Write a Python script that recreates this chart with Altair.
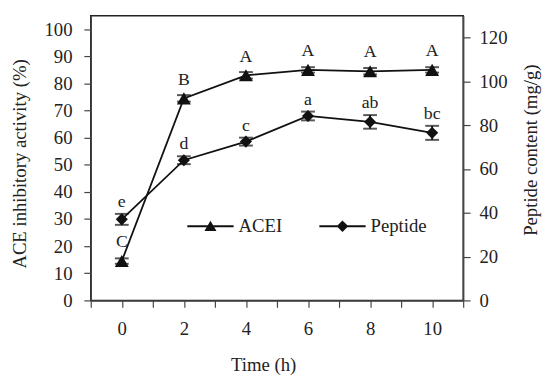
import altair as alt
import pandas as pd

# ---- data ----
time = [0, 2, 4, 6, 8, 10]
acei = [14.5, 74.5, 83.0, 85.0, 84.5, 85.0]
acei_err = [1.0, 1.2, 1.2, 1.0, 1.2, 1.0]
acei_letters = ["C", "B", "A", "A", "A", "A"]
peptide = [37.0, 64.0, 72.5, 84.2, 81.5, 76.5]
peptide_err = [2.5, 1.8, 1.8, 2.0, 3.1, 3.2]
peptide_letters = ["e", "d", "c", "a", "ab", "bc"]
series_names = ["ACEI", "Peptide"]
x_ticks = list(range(-1, 12))
left_ticks = list(range(0, 101, 10))
right_ticks = list(range(0, 121, 20))

FONT = "Liberation Serif"
INK = "#111111"
AX = "#444444"

acei_df = pd.DataFrame({
    "time": time, "value": acei, "err": acei_err, "letter": acei_letters,
})
acei_df["lo"] = acei_df["value"] - acei_df["err"]
acei_df["hi"] = acei_df["value"] + acei_df["err"]

pep_df = pd.DataFrame({
    "time": time, "value": peptide, "err": peptide_err, "letter": peptide_letters,
})
pep_df["lo"] = pep_df["value"] - pep_df["err"]
pep_df["hi"] = pep_df["value"] + pep_df["err"]

legend_df = pd.DataFrame({"series": series_names, "time": [0, 0]})

x_enc = alt.X(
    "time:Q",
    scale=alt.Scale(domain=[-1, 11], nice=False, zero=False),
    axis=alt.Axis(
        values=x_ticks,
        labelExpr="(datum.value % 2 == 0 && datum.value >= 0 && datum.value <= 10) ? datum.label : ''",
        title="Time (h)",
        titleX=175,
        titleY=65,
        titleBaseline="middle",
        titleAlign="center",
        labelPadding=13,
        tickSize=7,
        grid=False,
    ),
)

y_left_axis = alt.Axis(
    values=left_ticks,
    orient="left",
    title="ACE inhibitory activity (%)",
    titleAngle=270,
    titleX=-72,
    titleY=150,
    titleAlign="center",
    titleBaseline="middle",
    labelPadding=12,
    tickSize=7,
    grid=False,
)
y_right_axis = alt.Axis(
    values=right_ticks,
    orient="right",
    title="Peptide content (mg/g)",
    titleAngle=270,
    titleX=68,
    titleY=136,
    titleAlign="center",
    titleBaseline="middle",
    labelPadding=9,
    tickSize=7,
    grid=False,
)

left_scale = alt.Scale(domain=[0, 105], nice=False, zero=True)
right_scale = alt.Scale(domain=[0, 130], nice=False, zero=True)


def series_layer(df, scale, axis, shape, msize, text_field, text_dy):
    base = alt.Chart(df)
    y_val = alt.Y("value:Q", scale=scale, axis=axis)
    line = base.mark_line(color=INK, strokeWidth=1.8).encode(x=x_enc, y=y_val)
    rule = base.mark_rule(color=INK, strokeWidth=1.8).encode(
        x=x_enc, y=alt.Y("lo:Q", scale=scale, axis=axis), y2="hi:Q"
    )
    cap_lo = base.mark_tick(color=INK, orient="horizontal", size=14, thickness=2).encode(
        x=x_enc, y=alt.Y("lo:Q", scale=scale, axis=axis)
    )
    cap_hi = base.mark_tick(color=INK, orient="horizontal", size=14, thickness=2).encode(
        x=x_enc, y=alt.Y("hi:Q", scale=scale, axis=axis)
    )
    pts = base.mark_point(shape=shape, filled=True, color=INK, size=msize, opacity=1).encode(
        x=x_enc, y=y_val
    )
    txt = base.mark_text(
        font=FONT, fontSize=18, color="#222222", dy=text_dy, baseline="middle", align="center"
    ).encode(x=x_enc, y=alt.Y(f"{text_field}:Q", scale=scale, axis=axis), text="letter:N")
    return alt.layer(line, rule, cap_lo, cap_hi, pts, txt)


acei_layer = series_layer(acei_df, left_scale, y_left_axis, "triangle-up", 200, "value", -19)
pep_layer = series_layer(pep_df, right_scale, y_right_axis, "diamond", 150, "hi", -12)

tri_path = "M-1,-0.04L1,-0.04L1,0.04L-1,0.04Z M-0.26,0.2L0,-0.24L0.26,0.2Z"
dia_path = "M-1,-0.04L1,-0.04L1,0.04L-1,0.04Z M-0.25,0L0,-0.25L0.25,0L0,0.25Z"

legend_layer = alt.Chart(legend_df).mark_point(filled=True, color=INK, opacity=0, size=2209).encode(
    x=x_enc,
    shape=alt.Shape(
        "series:N",
        scale=alt.Scale(domain=series_names, range=[tri_path, dia_path]),
        legend=alt.Legend(
            title=None,
            orient="none",
            direction="horizontal",
            legendX=98,
            legendY=190,
            symbolSize=2209,
            symbolOpacity=1,
            symbolFillColor=INK,
            symbolStrokeWidth=0,
            labelFont=FONT,
            labelFontSize=19,
            labelColor="#222222",
            labelOffset=5,
            columnPadding=37,
            padding=0,
        ),
    ),
)

chart = (
    alt.layer(acei_layer, pep_layer, legend_layer)
    .resolve_scale(y="independent")
    .properties(
        width=378,
        height=289,
        autosize=alt.AutoSizeParams(type="none"),
        padding={"left": 84, "top": 5, "right": 80, "bottom": 78},
        background="white",
    )
    .configure_view(stroke="#222222", strokeWidth=1.5)
    .configure_axis(
        labelFont=FONT,
        titleFont=FONT,
        labelFontSize=19,
        titleFontSize=19,
        titleFontWeight="normal",
        labelColor="#222222",
        titleColor="#222222",
        domainColor=AX,
        tickColor=AX,
        domainWidth=1.5,
        tickWidth=1.2,
    )
)

chart.save("out.html", embed_options={"renderer": "svg", "actions": False})
